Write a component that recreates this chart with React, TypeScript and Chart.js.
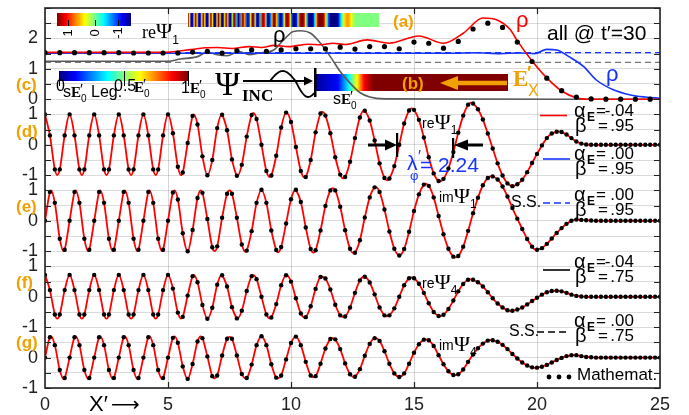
import React, { useEffect, useRef } from 'react';
import { Chart, registerables } from 'chart.js';
Chart.register(...registerables);

// ---------- data ----------
// sample positions of the "Mathemat." dots (panels d-g)
const DOT_X = [
  0, 0.2, 0.4, 0.6, 0.8, 1, 1.2, 1.4, 1.6, 1.8, 2, 2.2, 2.4, 2.6, 2.8, 3, 3.2, 3.4, 3.6, 3.8,
  4, 4.2, 4.4, 4.6, 4.8, 5, 5.2, 5.4, 5.6, 5.8, 6, 6.2, 6.4, 6.6, 6.8, 7, 7.2, 7.4, 7.6, 7.8,
  8, 8.2, 8.4, 8.6, 8.8, 9, 9.2, 9.4, 9.6, 9.8, 10, 10.2, 10.4, 10.6, 10.8, 11, 11.2, 11.4, 11.6, 11.8,
  12, 12.2, 12.4, 12.6, 12.8, 13, 13.2, 13.4, 13.6, 13.8, 14, 14.2, 14.4, 14.6, 14.8, 15, 15.2, 15.4, 15.6, 15.8,
  16, 16.2, 16.4, 16.6, 16.8, 17, 17.2, 17.4, 17.6, 17.8, 18, 18.2, 18.4, 18.6, 18.8, 19, 19.2, 19.4, 19.6, 19.8,
  20, 20.2, 20.4, 20.6, 20.8, 21, 21.2, 21.4, 21.6, 21.8, 22, 22.2, 22.4, 22.6, 22.8, 23, 23.2, 23.4, 23.6, 23.8,
  24, 24.2, 24.4, 24.6, 24.8, 25,
];
// (d) re Psi1
const RE_PSI1 = [
  1, .31, -.81, -.81, .31, 1, .31, -.81, -.81, .31, 1, .31, -.81, -.81, .31, 1, .31, -.81, -.81, .31, 1, .31, -.81, -.81, .31,
  1, .38, -.72, -.91, .06, .95, .67, -.38, -1, -.5, .55, .99, .48, -.48, -1.02, -.66, .27, .98, .85, 0, -.86, -1.01, -.36, .57, 1.06,
  .75, -.07, -.86, -1.06, -.5, .41, 1.03, .96, .38, -.41, -.98, -1.06, -.56, .22, .9, 1.12, .8, .14, -.61, -1.09, -1.11, -.7, 0, .7, 1.13,
  1.15, .82, .24, -.41, -.94, -1.19, -1.12, -.78, -.24, .4, .96, 1.32, 1.36, 1.17, .83, .37, -.12, -.61, -1.01, -1.27, -1.36, -1.3, -1.15, -.9, -.6,
  -.3, -.02, .22, .37, .43, .42, .34, .22, .11, .04, .01, 0, 0, 0, 0, 0, 0, 0, 0, 0, 0, 0, 0, 0, 0,
  0,
];
const RE_PSI1_EXT_X = [0.5, 1.5, 2.5, 3.5, 4.5, 5.53, 6.05, 6.61, 7.18, 7.82, 8.47, 9.13, 9.82, 10.55, 11.27, 12.12, 12.97, 13.9, 14.9, 16.05, 17.3, 20.85];
const RE_PSI1_EXT_Y = [-1, -1, -1, -1, -1, -1, 1, -1, 1, -1.03, 1.05, -1.06, 1.06, -1.08, 1.08, -1.1, 1.13, -1.17, 1.2, -1.2, 1.38, 0.44];
// (e) im Psi1
const IM_PSI1 = [
  0, .95, .59, -.59, -.95, 0, .95, .59, -.59, -.95, 0, .95, .59, -.59, -.95, 0, .95, .59, -.59, -.95, 0, .95, .59, -.59, -.95,
  0, .93, .7, -.41, -1, -.3, .75, .92, .06, -.87, -.84, .1, .89, .89, .1, -.78, -.98, -.34, .59, 1.02, .59, -.32, -.96, -.86, -.09,
  .71, 1.02, .62, -.22, -.93, -.97, -.32, .49, 1, 1, .46, -.31, -.92, -1.05, -.64, .11, .77, 1.1, .95, .37, -.35, -.92, -1.14, -.93, -.36,
  .32, .87, 1.19, 1.15, .77, .16, -.44, -.92, -1.18, -1.16, -.85, -.33, .25, .76, 1.17, 1.41, 1.46, 1.36, 1.13, .8, .42, .07, -.27, -.6, -.85,
  -.95, -.9, -.76, -.58, -.4, -.24, -.1, 0, .04, .03, .02, .01, 0, 0, 0, 0, 0, 0, 0, 0, 0, 0, 0, 0, 0,
  0,
];
const IM_PSI1_EXT_X = [0.25, 0.75, 1.25, 1.75, 2.25, 2.75, 3.25, 3.75, 4.25, 4.75, 5.27, 5.79, 6.33, 6.9, 7.5, 8.15, 9.47, 10.19, 10.91, 11.7, 12.55, 13.44, 15.47, 16.68, 18.15, 19.95];
const IM_PSI1_EXT_Y = [1, -1, 1, -1, 1, -1, 1, -1, 1, -1, 1, -1, 1, -1, 1, -1.02, -1.04, 1.03, -1.05, 1.07, -1.07, 1.11, 1.22, -1.2, 1.47, -0.96];
// (f) re Psi4
const RE_PSI4 = [
  .72, .22, -.58, -.58, .22, .72, .22, -.58, -.58, .22, .72, .22, -.58, -.58, .22, .72, .22, -.58, -.58, .22, .72, .22, -.58, -.58, .22,
  .72, .27, -.52, -.66, .04, .68, .48, -.27, -.72, -.36, .4, .71, .34, -.34, -.71, -.46, .19, .68, .58, 0, -.58, -.68, -.24, .38, .71,
  .5, -.05, -.55, -.67, -.31, .26, .65, .6, .24, -.26, -.61, -.65, -.35, .13, .54, .66, .47, .08, -.35, -.61, -.61, -.38, 0, .38, .61,
  .61, .43, .13, -.21, -.5, -.63, -.59, -.4, -.12, .18, .42, .56, .56, .48, .34, .15, -.05, -.22, -.35, -.44, -.46, -.42, -.35, -.25, -.14,
  -.03, .07, .15, .19, .2, .18, .13, .07, .03, .01, 0, 0, 0, 0, 0, 0, 0, 0, 0, 0, 0, 0, 0, 0, 0,
  0,
];
const RE_PSI4_EXT_X = [0.5, 1.5, 2.5, 3.5, 4.5, 5.53, 6.05, 6.61, 7.18, 7.82, 8.47, 9.13, 9.82, 10.55, 11.27, 12.12, 12.97, 13.9, 14.9, 16.05, 17.3, 18.95];
const RE_PSI4_EXT_Y = [-.72, -.72, -.72, -.72, -.72, -.72, .72, -.72, .72, -.72, .71, -.71, .71, -.68, .66, -.66, .66, -.64, .64, -.64, .57, -.47];
// (g) im Psi4
const IM_PSI4 = [
  0, .67, .41, -.41, -.67, 0, .67, .41, -.41, -.67, 0, .67, .41, -.41, -.67, 0, .67, .41, -.41, -.67, 0, .67, .41, -.41, -.67,
  0, .65, .49, -.29, -.7, -.21, .53, .64, .04, -.61, -.59, .07, .62, .62, .07, -.54, -.67, -.23, .41, .7, .41, -.22, -.66, -.59, -.06,
  .48, .69, .41, -.14, -.59, -.61, -.2, .3, .61, .6, .28, -.19, -.55, -.63, -.38, .06, .45, .64, .55, .21, -.2, -.52, -.64, -.52, -.2,
  .16, .44, .59, .57, .38, .08, -.22, -.45, -.57, -.55, -.39, -.14, .1, .31, .46, .56, .57, .52, .42, .28, .12, -.03, -.16, -.26, -.32,
  -.33, -.3, -.24, -.16, -.08, -.01, .05, .08, .08, .05, .02, .01, 0, 0, 0, 0, 0, 0, 0, 0, 0, 0, 0, 0, 0,
  0,
];
const IM_PSI4_EXT_X = [0.25, 0.75, 1.25, 1.75, 2.25, 2.75, 3.25, 3.75, 4.25, 4.75, 5.27, 5.79, 6.33, 6.9, 7.5, 8.15, 9.47, 10.19, 10.9, 11.7, 12.55, 13.43, 15.47, 16.65, 18.1, 19.92, 21.5];
const IM_PSI4_EXT_Y = [.7, -.7, .7, -.7, .7, -.7, .7, -.7, .7, -.7, .7, -.7, .7, -.68, .68, -.68, -.68, .69, -.64, .64, -.64, .64, .6, -.58, .58, -.34, .09];

// (a) densities rho
const RHO_DOT_X = [
  0, 0.6, 1.2, 1.8, 2.4, 3, 3.6, 4.2, 4.8, 5.4, 6, 6.6, 7.2, 7.8, 8.4, 9, 9.6, 10.2, 10.8, 11.4,
  12, 12.6, 13.2, 13.8, 14.4, 15, 15.6, 16.2, 16.8, 17.4, 18, 18.6, 19.2, 19.8, 20.4, 21, 21.6, 22.2, 22.8, 23.4,
  24, 24.6,
];
const RHO_DOTS = [
  1.53, 1.53, 1.53, 1.53, 1.53, 1.53, 1.52, 1.52, 1.52, 1.52, 1.55, 1.57, 1.52, 1.6, 1.62, 1.57, 1.62, 1.66, 1.66, 1.66,
  1.71, 1.65, 1.73, 1.73, 1.66, 1.88, 1.84, 1.68, 1.9, 2.31, 2.5, 2.36, 1.88, 1.24, 0.69, 0.28, 0.07, 0.01, 0, 0,
  0, 0,
];
const RHO_RED_X = [0, 4.6, 5.3, 5.9, 6.5, 7.0, 7.6, 8.3, 8.8, 9.3, 9.9, 10.7, 11.2, 11.7, 12.2, 13.1, 14.0, 15.2, 16.2, 17.0, 17.8, 18.4, 18.9, 19.2, 19.8, 20.4, 21.0, 21.6, 22.2, 25];
const RHO_RED_Y = [1.54, 1.54, 1.57, 1.63, 1.69, 1.7, 1.67, 1.73, 1.7, 1.77, 1.73, 1.81, 1.79, 1.84, 1.8, 1.95, 1.84, 2.08, 1.84, 2.17, 2.67, 2.6, 2.3, 1.92, 1.26, 0.7, 0.27, 0.05, 0, 0];
const RHO_BLUE_X = [0, 16.5, 17.5, 18.5, 19.3, 19.9, 20.4, 20.8, 21.3, 21.9, 22.4, 23.1, 23.8, 24.4, 25];
const RHO_BLUE_Y = [1.51, 1.51, 1.53, 1.5, 1.52, 1.5, 1.64, 1.62, 1.4, 1.07, 0.64, 0.31, 0.14, 0.07, 0.03];
const RHO_GRAY_X = [0, 5.0, 5.5, 6.2, 6.6, 7.0, 7.4, 7.9, 8.3, 8.7, 9.3, 9.7, 10.1, 10.4, 10.8, 11.2, 11.6, 12.0, 12.4, 12.8, 13.2, 13.8, 25];
const RHO_GRAY_Y = [1.25, 1.25, 1.32, 1.4, 1.55, 1.46, 1.43, 1.57, 1.46, 1.52, 1.62, 1.95, 2.23, 2.25, 2.17, 1.84, 1.4, 0.91, 0.53, 0.22, 0.07, 0.01, 0];
const GRAY_DASH_LEVEL = 1.21;
const BLUE_DASH_LEVEL = 1.53;

// y tick labels (global value -> label)
const Y_TICK_VALUES = [10.5, 9.5, 8.5, 8, 7, 6, 5.5, 4.5, 3.5, 3, 2, 1, 0, -1];
const Y_TICK_LABELS = ['2', '1', '0', '1', '0', '-1', '1', '0', '-1', '1', '0', '-1', '0', '-1'];
const X_RANGE = [0, 25];

// panel baselines (layout)
const OFF_A = 8.5, OFF_D = 7, OFF_E = 4.5, OFF_F = 2, OFF_G = 0;

// ---------- styling helpers ----------
const SANS = '"Liberation Sans", Arial, "DejaVu Sans", sans-serif';
const SERIF = '"Liberation Serif", "Times New Roman", "DejaVu Serif", serif';
const ORANGE = '#f0a000';
const RED = '#ff0000';
const BLUE = '#1433ff';

function pts(xs: number[], ys: number[], off: number) {
  return xs.map((x, i) => ({ x, y: ys[i] + off }));
}
function merged(xs: number[], ys: number[], ex: number[], ey: number[], off: number) {
  const a = [...pts(xs, ys, off), ...pts(ex, ey, off)];
  a.sort((p, q) => p.x - q.x);
  return a;
}
function flat(level: number, off: number) {
  return X_RANGE.map((x) => ({ x, y: level + off }));
}
function jet(t: number) {
  t = Math.max(0, Math.min(1, t));
  const c = (v: number) => Math.round(255 * Math.max(0, Math.min(1, v)));
  return `rgb(${c(1.5 - Math.abs(4 * t - 3))},${c(1.5 - Math.abs(4 * t - 2))},${c(1.5 - Math.abs(4 * t - 1))})`;
}
function seq(ctx: CanvasRenderingContext2D, x: number, y: number, parts: any[]) {
  let cx = x;
  for (const p of parts) {
    const [t, f, dy = 0, col] = p;
    ctx.font = f;
    if (col) ctx.fillStyle = col;
    ctx.fillText(t, cx, y + dy);
    cx += ctx.measureText(t).width;
  }
  return cx;
}
function ePrime0(ctx: CanvasRenderingContext2D, x: number, y: number, size: number, col = '#000') {
  ctx.fillStyle = col;
  ctx.font = `bold ${size}px ${SERIF}`;
  ctx.fillText('E', x, y);
  const w = ctx.measureText('E').width;
  ctx.font = `${size}px ${SANS}`;
  ctx.fillText('′', x + w - 1, y - 3);
  ctx.font = `${Math.round(size * 0.68)}px ${SANS}`;
  ctx.fillText('0', x + w, y + 6);
  return x + w + ctx.measureText('0').width;
}
function hArrow(ctx: CanvasRenderingContext2D, from: number, tip: number, y: number, head: number, half: number, width: number, col: string) {
  const dir = tip > from ? 1 : -1;
  ctx.strokeStyle = col;
  ctx.fillStyle = col;
  ctx.lineWidth = width;
  ctx.beginPath();
  ctx.moveTo(from, y);
  ctx.lineTo(tip - dir * head * 0.8, y);
  ctx.stroke();
  ctx.beginPath();
  ctx.moveTo(tip, y);
  ctx.lineTo(tip - dir * head, y - half);
  ctx.lineTo(tip - dir * head, y + half);
  ctx.closePath();
  ctx.fill();
}
function gradRect(ctx: CanvasRenderingContext2D, x: number, y: number, w: number, h: number, stops: [number, string][]) {
  const g = ctx.createLinearGradient(x, 0, x + w, 0);
  for (const [o, c] of stops) g.addColorStop(Math.max(0, Math.min(1, o)), c);
  ctx.fillStyle = g;
  ctx.fillRect(x, y, w, h);
}

const decor = {
  id: 'decor',
  beforeDatasetsDraw(chart: any) {
    const ctx: CanvasRenderingContext2D = chart.ctx;
    ctx.save();
    // colour bar (a): reversed jet, +1 (left) .. -1 (right)
    const revStops: [number, string][] = [];
    for (let i = 0; i <= 16; i++) revStops.push([i / 16, jet(1 - i / 16)]);
    gradRect(ctx, 57, 13, 74, 13, revStops);
    // stripe band: reΨ1 over x 0..25 (mini density plot)
    const band = merged(DOT_X, RE_PSI1, RE_PSI1_EXT_X, RE_PSI1_EXT_Y, 0);
    gradRect(ctx, 188, 13, 191, 14, band.map((p) => [p.x / 25, jet((p.y + 1) / 2)] as [number, string]));
    // colour bar (c): jet 0..1
    const jStops: [number, string][] = [];
    for (let i = 0; i <= 16; i++) jStops.push([i / 16, jet(i / 16)]);
    gradRect(ctx, 59, 71, 129, 10, jStops);
    // bar (b)
    const bx = 315, bw = 193;
    gradRect(ctx, bx, 74, bw, 17, [
      [0, jet(0.02)], [(338 - bx) / bw, jet(0.13)], [(349 - bx) / bw, jet(0.375)],
      [(357 - bx) / bw, jet(0.625)], [(364 - bx) / bw, jet(0.875)], [(373 - bx) / bw, jet(1)], [1, jet(1)],
    ]);
    ctx.restore();
  },
  afterDatasetsDraw(chart: any) {
    const ctx: CanvasRenderingContext2D = chart.ctx;
    const ca = chart.chartArea;
    const xs = chart.scales.x, ys = chart.scales.y;
    ctx.save();
    ctx.textBaseline = 'middle';
    ctx.textAlign = 'left';

    // frame + inner ticks
    ctx.strokeStyle = '#222';
    ctx.lineWidth = 1.2;
    ctx.beginPath();
    for (let v = -1; v <= 11.5 + 1e-9; v += 0.5) {
      const py = Math.round(ys.getPixelForValue(v)) + 0.5;
      ctx.moveTo(ca.left, py); ctx.lineTo(ca.left + 6, py);
      ctx.moveTo(ca.right, py); ctx.lineTo(ca.right - 6, py);
    }
    for (let v = 5; v < 25; v += 5) {
      const px = Math.round(xs.getPixelForValue(v)) + 0.5;
      ctx.moveTo(px, ca.bottom); ctx.lineTo(px, ca.bottom - 6);
      ctx.moveTo(px, ca.top); ctx.lineTo(px, ca.top + 6);
    }
    ctx.stroke();
    ctx.lineWidth = 1.6;
    ctx.strokeRect(ca.left, ca.top, ca.right - ca.left, ca.bottom - ca.top);

    // colour bar (a) ticks + labels
    ctx.strokeStyle = '#000'; ctx.lineWidth = 1;
    ctx.beginPath();
    [68, 95, 118].forEach((x) => { ctx.moveTo(x + 0.5, 20); ctx.lineTo(x + 0.5, 26); });
    ctx.stroke();
    ctx.fillStyle = '#000';
    ctx.font = `13px ${SANS}`;
    [['1', 68], ['0', 95], ['-1', 118]].forEach(([t, x]: any) => {
      ctx.save(); ctx.translate(x, 33); ctx.rotate(-Math.PI / 2);
      ctx.textAlign = 'center'; ctx.fillText(t, 0, 0); ctx.restore();
    });
    ctx.fillStyle = '#000';
    seq(ctx, 142, 33, [['re', `18px ${SERIF}`], ['Ψ', `22px ${SERIF}`, -1], ['1', `12px ${SANS}`, 8]]);

    // (a) etc.
    ctx.fillStyle = ORANGE;
    ctx.font = `bold 17px ${SANS}`;
    ctx.fillText('(a)', 393, 22);
    ctx.fillText('(c)', 16, 85);
    ctx.fillText('(d)', 16, 132);
    ctx.fillText('(e)', 16, 207);
    ctx.fillText('(f)', 16, 283);
    ctx.fillText('(g)', 16, 343);
    ctx.fillText('(b)', 402, 84);

    // rho labels
    ctx.font = `22px ${SANS}`;
    ctx.fillStyle = RED; ctx.fillText('ρ', 516, 21);
    ctx.fillStyle = '#000'; ctx.fillText('ρ', 273, 36);
    ctx.fillStyle = BLUE; ctx.fillText('ρ', 606, 75);
    ctx.fillStyle = '#000';
    ctx.font = `21px ${SANS}`;
    ctx.fillText('all @ t′=30', 547, 34);

    // colour bar (c) ticks + labels
    ctx.strokeStyle = '#000'; ctx.lineWidth = 1;
    ctx.beginPath();
    [59, 124, 188].forEach((x) => { ctx.moveTo(x + 0.5, 71); ctx.lineTo(x + 0.5, 86); });
    ctx.stroke();
    ctx.fillStyle = '#000';
    ctx.font = `16px ${SANS}`; ctx.fillText('0', 56, 87);
    ctx.font = `16px ${SANS}`; ctx.fillText('s', 63, 93);
    let cx = ePrime0(ctx, 71, 93, 15);
    ctx.fillStyle = '#000'; ctx.font = `16px ${SANS}`; ctx.fillText(' Leg.', cx, 93);
    ctx.font = `16px ${SANS}`; ctx.fillText('0.5', 114, 87);
    ePrime0(ctx, 134, 88, 15);
    ctx.fillStyle = '#000'; ctx.font = `16px ${SANS}`; ctx.fillText('1', 181, 89);
    ePrime0(ctx, 190, 89, 15);

    // Psi_INC with wave and arrow
    ctx.fillStyle = '#000';
    ctx.font = `34px ${SERIF}`; ctx.fillText('Ψ', 215, 86);
    ctx.font = `bold 17px ${SERIF}`; ctx.fillText('INC', 242, 97);
    hArrow(ctx, 243, 313, 81, 9, 4.5, 1.8, '#000');
    ctx.beginPath();
    ctx.lineWidth = 1.8;
    for (let i = 0; i <= 44; i++) {
      const px = 270 + i;
      const s = Math.sin((2 * Math.PI * i) / 51);
      const py = 81 - (s > 0 ? 10 : 16) * s;
      if (i === 0) ctx.moveTo(px, py); else ctx.lineTo(px, py);
    }
    ctx.stroke();
    ctx.fillRect(314, 68, 2.5, 29);
    ctx.font = `16px ${SANS}`; ctx.fillText('s', 333, 100);
    ePrime0(ctx, 341, 100, 15);

    // orange arrow E'_x
    hArrow(ctx, 507, 440, 83, 18, 7, 4.5, ORANGE);
    ctx.fillStyle = ORANGE;
    ctx.font = `bold 23px ${SERIF}`; ctx.fillText('E', 513, 80);
    ctx.font = `bold 18px ${SANS}`; ctx.fillText('′', 527, 74);
    ctx.font = `16px ${SANS}`; ctx.fillText('X', 528, 92);

    // Psi labels in panels d-g
    ctx.fillStyle = '#000';
    seq(ctx, 422, 124, [['re', `14px ${SANS}`], ['Ψ', `22px ${SERIF}`, -1], ['1', `12px ${SANS}`, 7]]);
    seq(ctx, 439, 198, [['im', `14px ${SANS}`], ['Ψ', `22px ${SERIF}`, -1], ['1', `12px ${SANS}`, 7]]);
    seq(ctx, 422, 284, [['re', `14px ${SANS}`], ['Ψ', `22px ${SERIF}`, -1], ['4', `12px ${SANS}`, 7]]);
    seq(ctx, 439, 346, [['im', `14px ${SANS}`], ['Ψ', `22px ${SERIF}`, -1], ['4', `12px ${SANS}`, 7]]);

    // wavelength arrows
    hArrow(ctx, 368, 397, 145, 12, 5.5, 3, '#000');
    hArrow(ctx, 483, 454, 145, 14, 5.5, 3, '#000');
    ctx.fillStyle = '#000';
    ctx.fillRect(396, 133, 2.2, 24);
    ctx.fillRect(452, 138, 2.2, 20);
    ctx.fillStyle = BLUE;
    ctx.font = `21px ${SANS}`; ctx.fillText('λ', 407, 164);
    ctx.font = `16px ${SANS}`; ctx.fillText('′', 418, 158);
    ctx.font = `13px ${SANS}`; ctx.fillText('φ', 410, 176);
    ctx.font = `21px ${SANS}`; ctx.fillText('= 2.24', 420, 166);

    // legend
    const legendLine = (x1: number, x2: number, y: number, col: string, dash: number[]) => {
      ctx.save();
      ctx.strokeStyle = col; ctx.lineWidth = 1.6; ctx.setLineDash(dash);
      ctx.beginPath(); ctx.moveTo(x1, y); ctx.lineTo(x2, y); ctx.stroke();
      ctx.restore();
    };
    const entry = (y: number, a: string, b: string) => {
      ctx.fillStyle = '#000';
      ctx.font = `20px ${SANS}`; ctx.fillText('α', 574, y);
      ctx.font = `bold 12px ${SANS}`; ctx.fillText('E', 587, y + 7);
      ctx.font = `20px ${SANS}`; ctx.fillText('β', 575, y + 15);
      ctx.font = `17px ${SANS}`;
      ctx.fillText('=', 596, y); ctx.fillText('=', 598, y + 15);
      ctx.textAlign = 'right';
      ctx.fillText(a, 634, y); ctx.fillText(b, 634, y + 15);
      ctx.textAlign = 'left';
    };
    legendLine(540, 567, 115.5, RED, []); entry(111, '-.04', '.95');
    legendLine(543, 570, 159, BLUE, []); entry(154, '.00', '.95');
    legendLine(543, 570, 203, BLUE, [7, 4]); entry(195, '.00', '.95');
    legendLine(543, 570, 270, '#000', []); entry(262, '-.04', '.75');
    legendLine(537, 570, 332, '#000', [7, 4]); entry(321, '.00', '.75');
    ctx.fillStyle = '#000';
    ctx.font = `16px ${SANS}`;
    ctx.fillText('S.S.', 511, 203);
    ctx.fillText('S.S.', 509, 332);
    [549, 559, 569].forEach((x) => { ctx.beginPath(); ctx.arc(x, 377, 2.4, 0, Math.PI * 2); ctx.fill(); });
    ctx.font = `17px ${SANS}`; ctx.fillText('Mathemat.', 577, 375);

    // x axis title
    ctx.font = `22px ${SANS}`; ctx.fillText('X′', 89, 405);
    ctx.font = `20px "DejaVu Sans", ${SANS}`; ctx.fillText('⟶', 111, 406);
    ctx.restore();
  },
};

export default function App() {
  const ref = useRef<HTMLCanvasElement>(null);
  useEffect(() => {
    const canvas = ref.current;
    if (!canvas) return;
    const lineStyle = (color: string, width: number, dash: number[], order: number) => ({
      showLine: true, borderColor: color, backgroundColor: color, borderWidth: width, borderDash: dash,
      pointRadius: 0, pointHoverRadius: 0, fill: false, cubicInterpolationMode: 'monotone', order,
    });
    const dotStyle = (r: number) => ({
      showLine: false, pointRadius: r, pointHoverRadius: r, pointBackgroundColor: '#000',
      pointBorderColor: '#000', pointBorderWidth: 0, order: 0,
    });
    const datasets: any[] = [
      { data: flat(GRAY_DASH_LEVEL, OFF_A), ...lineStyle('#777777', 1.3, [6, 4], 6) },
      { data: flat(BLUE_DASH_LEVEL, OFF_A), ...lineStyle(BLUE, 1.2, [6, 4], 6) },
      { data: pts(RHO_GRAY_X, RHO_GRAY_Y, OFF_A), ...lineStyle('#5a5a5a', 1.6, [], 5) },
      { data: pts(RHO_BLUE_X, RHO_BLUE_Y, OFF_A), ...lineStyle(BLUE, 1.6, [], 4) },
      { data: pts(RHO_RED_X, RHO_RED_Y, OFF_A), ...lineStyle(RED, 1.6, [], 3) },
      { data: pts(RHO_DOT_X, RHO_DOTS, OFF_A), ...dotStyle(2.6) },
      { data: merged(DOT_X, RE_PSI1, RE_PSI1_EXT_X, RE_PSI1_EXT_Y, OFF_D), ...lineStyle(RED, 1.8, [], 1) },
      { data: merged(DOT_X, IM_PSI1, IM_PSI1_EXT_X, IM_PSI1_EXT_Y, OFF_E), ...lineStyle(RED, 1.8, [], 1) },
      { data: merged(DOT_X, RE_PSI4, RE_PSI4_EXT_X, RE_PSI4_EXT_Y, OFF_F), ...lineStyle(RED, 1.8, [], 1) },
      { data: merged(DOT_X, IM_PSI4, IM_PSI4_EXT_X, IM_PSI4_EXT_Y, OFF_G), ...lineStyle(RED, 1.8, [], 1) },
      { data: pts(DOT_X, RE_PSI1, OFF_D), ...dotStyle(2.2) },
      { data: pts(DOT_X, IM_PSI1, OFF_E), ...dotStyle(2.2) },
      { data: pts(DOT_X, RE_PSI4, OFF_F), ...dotStyle(2.2) },
      { data: pts(DOT_X, IM_PSI4, OFF_G), ...dotStyle(2.2) },
    ];
    const chart = new Chart(canvas, {
      type: 'scatter',
      data: { datasets },
      plugins: [decor],
      options: {
        responsive: false,
        animation: false,
        events: [],
        layout: { padding: { top: 8, right: 29, left: 0, bottom: 0 } },
        plugins: { legend: { display: false }, tooltip: { enabled: false }, title: { display: false } },
        scales: {
          x: {
            type: 'linear', min: X_RANGE[0], max: X_RANGE[1],
            border: { display: false },
            grid: { color: 'rgba(0,0,0,0.16)', lineWidth: 1, drawTicks: false },
            ticks: { stepSize: 5, padding: 6, color: '#222', font: { family: SANS, size: 18 } },
            afterFit: (s: any) => { s.height = 27; s.paddingLeft = 0; s.paddingRight = 0; },
          },
          y: {
            type: 'linear', min: -1, max: 11.5,
            border: { display: false },
            grid: { color: 'rgba(0,0,0,0.14)', lineWidth: 1, drawTicks: false },
            ticks: {
              stepSize: 0.5, autoSkip: false, padding: 7, color: '#222',
              font: { family: SANS, size: 18 },
              callback: (v: any) => {
                const i = Y_TICK_VALUES.findIndex((t) => Math.abs(t - Number(v)) < 1e-6);
                return i >= 0 ? Y_TICK_LABELS[i] : '';
              },
            },
            afterFit: (s: any) => { s.width = 45; s.paddingTop = 0; s.paddingBottom = 0; },
          },
        },
      } as any,
    });
    return () => chart.destroy();
  }, []);
  return (
    <div style={{ position: 'absolute', left: 0, top: 0, width: 689, height: 415, background: '#fff' }}>
      <canvas ref={ref} width={689} height={415} style={{ display: 'block', width: 689, height: 415 }} />
    </div>
  );
}
